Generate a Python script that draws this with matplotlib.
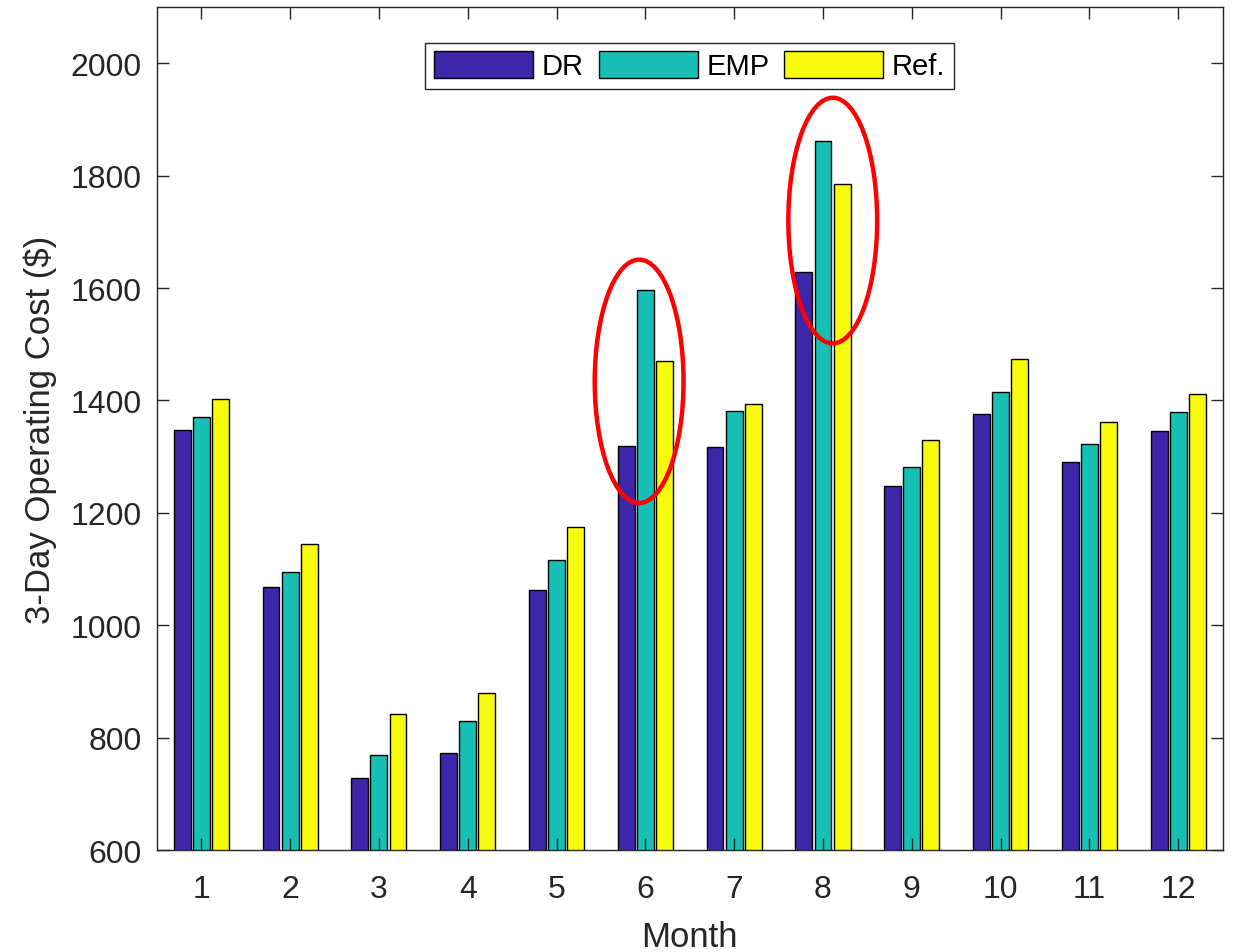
import numpy as np
import matplotlib
matplotlib.use("Agg")
from matplotlib import pyplot as plt
from matplotlib.patches import Ellipse

plt.rcParams['font.family'] = ['Liberation Sans', 'DejaVu Sans']

months = [1, 2, 3, 4, 5, 6, 7, 8, 9, 10, 11, 12]
dr_cost = [1347, 1068, 729, 772, 1063, 1319, 1318, 1629, 1248, 1375, 1291, 1346]
emp_cost = [1371, 1095, 769, 830, 1116, 1596, 1382, 1861, 1282, 1415, 1323, 1380]
ref_cost = [1403, 1145, 842, 879, 1175, 1470, 1393, 1785, 1329, 1473, 1362, 1411]
series_names = ["DR", "EMP", "Ref."]

# highlighted groups (month, centre cost, height in $)
highlights = [(5.93, 1434, 433), (8.11, 1720, 437)]

colors = ["#3E26A8", "#17BFB4", "#F9FB0E"]
axis_col = "#262626"

fig = plt.figure(figsize=(12.35, 9.53), dpi=100)
ax = fig.add_axes([0.127, 0.107, 0.863, 0.8846])

x = np.array(months)
width = 0.19
offset = 0.215
for i, vals in enumerate([dr_cost, emp_cost, ref_cost]):
    ax.bar(x + (i - 1) * offset, vals, width, color=colors[i],
           edgecolor="black", linewidth=1.0, label=series_names[i])

for cx, cy, h in highlights:
    ax.add_patch(Ellipse((cx, cy), 1.0, h, fill=False, edgecolor="red",
                         linewidth=3.2, zorder=5))

ax.set_xlim(0.5, 12.5)
ax.set_ylim(600, 2100)
ax.set_xticks(months)
ax.set_yticks(range(600, 2001, 200))
ax.tick_params(direction="in", top=True, right=True, length=8.5, width=1,
               color=axis_col, labelcolor=axis_col, labelsize=23)
ax.tick_params(axis="x", pad=17)
ax.tick_params(axis="y", pad=11)
for s in ax.spines.values():
    s.set_color(axis_col)
    s.set_linewidth(1)

ax.set_xlabel("Month", fontsize=25, color=axis_col, labelpad=12)
ax.set_ylabel("3-Day Operating Cost ($)", fontsize=25, color=axis_col,
              labelpad=10)

leg = ax.legend(loc="upper center", bbox_to_anchor=(0.5, 0.975), ncol=3,
                fontsize=21, handlelength=3.4, handleheight=1.0,
                handletextpad=0.3, columnspacing=0.5, borderpad=0.3,
                fancybox=False, framealpha=1)
leg.get_frame().set_edgecolor(axis_col)
leg.get_frame().set_linewidth(1)

fig.savefig("out.png", dpi=100)
